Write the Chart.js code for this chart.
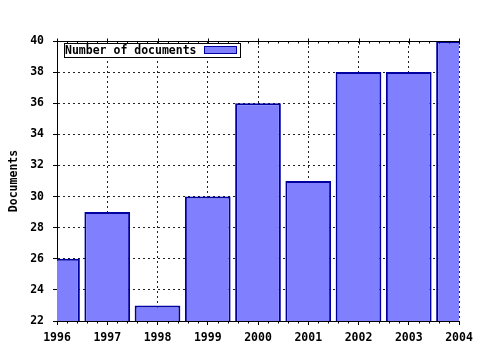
<!DOCTYPE html>
<html><head><meta charset="utf-8">
<script src="https://cdn.jsdelivr.net/npm/chart.js@4/dist/chart.umd.min.js"></script>
<style>html,body{margin:0;padding:0;background:#fff}#wrap{width:480px;height:350px}</style>
</head><body><div id="wrap"><canvas id="c" width="480" height="350"></canvas></div>
<script>
const years = ['1996','1997','1998','1999','2000','2001','2002','2003','2004'];
const documents = [26, 29, 23, 30, 36, 31, 38, 38, 40];
const seriesName = 'Number of documents';
const yTitle = 'Documents';
const FONT = '"DejaVu Sans Mono", monospace';

const frame = {
  id: 'frame',
  afterDraw(chart) {
    const {ctx, chartArea: a} = chart;
    const xs = chart.scales.x;
    ctx.save();
    ctx.strokeStyle = '#000'; ctx.lineWidth = 1;
    const ty = Math.round(a.top) + 0.5, by = Math.round(a.bottom) + 0.5;
    ctx.beginPath(); ctx.moveTo(a.left, ty); ctx.lineTo(a.right, ty); ctx.stroke();
    for (let i = 0; i < years.length; i++) {
      const p0 = xs.getPixelForTick(i);
      const px = Math.round(p0) + 0.5;
      ctx.beginPath(); ctx.moveTo(px, ty - 3); ctx.lineTo(px, ty + 3); ctx.stroke();
      if (i < years.length - 1) {
        const p1 = xs.getPixelForTick(i + 1);
        for (let k = 1; k < 5; k++) {
          const mx = Math.round(p0 + (p1 - p0) * k / 5) + 0.5;
          ctx.beginPath(); ctx.moveTo(mx, ty); ctx.lineTo(mx, ty + 2); ctx.stroke();
          ctx.beginPath(); ctx.moveTo(mx, by); ctx.lineTo(mx, by + 2); ctx.stroke();
        }
      }
    }
    // legend
    const lx = 64.5, ly = 43.5, lw = 176, lh = 14;
    ctx.fillStyle = '#fff'; ctx.fillRect(lx, ly, lw, lh);
    ctx.strokeRect(lx, ly, lw, lh);
    ctx.fillStyle = '#000'; ctx.font = 'bold 11.5px ' + FONT;
    ctx.textBaseline = 'middle'; ctx.textAlign = 'left';
    ctx.fillText(seriesName, 65, ly + lh / 2 + 0.5);
    ctx.fillStyle = '#8080ff'; ctx.fillRect(204.5, 46.5, 32, 7);
    ctx.strokeStyle = '#0000a0'; ctx.strokeRect(204.5, 46.5, 32, 7);
    ctx.restore();
  }
};

new Chart(document.getElementById('c'), {
  type: 'bar',
  data: { labels: years, datasets: [{
    label: seriesName, data: documents,
    backgroundColor: '#8080ff', borderColor: '#0000a0', borderWidth: 2,
    barPercentage: 0.91, categoryPercentage: 1.0
  }]},
  options: {
    responsive: false, animation: false,
    layout: { padding: { top: 41, right: 21, left: 0, bottom: 0 } },
    plugins: { legend: { display: false }, tooltip: { enabled: false } },
    scales: {
      x: {
        offset: false,
        grid: { offset: false, color: '#222', tickLength: 4, drawTicks: true, tickColor: '#000', tickBorderDash: [] },
        border: { color: '#000', width: 1, dash: [2, 3] },
        ticks: { color: '#000', font: { family: FONT, weight: 'bold', size: 11.5 }, padding: 6, maxRotation: 0, autoSkip: false },
        afterFit(s) { s.height = 29; }
      },
      y: {
        min: 22, max: 40,
        grid: { color: '#222', tickLength: 4, tickColor: '#000', tickBorderDash: [] },
        border: { color: '#000', width: 1, dash: [2, 3] },
        ticks: { stepSize: 2, color: '#000', font: { family: FONT, weight: 'bold', size: 11.5 }, padding: 9 },
        title: { display: true, text: yTitle, color: '#000', font: { family: FONT, weight: 'bold', size: 11.5 }, padding: { top: 7, bottom: 0 } },
        afterFit(s) { s.width = 57; }
      }
    }
  },
  plugins: [frame]
});
</script>
</body></html>
